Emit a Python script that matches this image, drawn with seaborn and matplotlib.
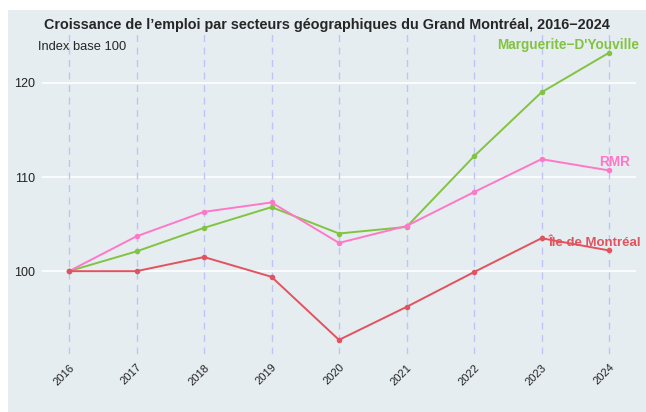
import numpy as np
import pandas as pd
import seaborn as sns
import matplotlib.pyplot as plt
from matplotlib.patches import Rectangle
from matplotlib.transforms import ScaledTranslation

# data (index base 100)
years = [2016, 2017, 2018, 2019, 2020, 2021, 2022, 2023, 2024]
marguerite = [100.0, 102.1, 104.6, 106.8, 104.0, 104.7, 112.2, 119.0, 123.2]
rmr = [100.0, 103.7, 106.3, 107.3, 103.0, 104.8, 108.4, 111.9, 110.7]
ile_mtl = [100.0, 100.0, 101.5, 99.4, 92.7, 96.2, 99.9, 103.5, 102.2]
series_names = ["Marguerite\u2212D'Youville", "RMR", "Île de Montréal"]
colors = ["#82C341", "#FF78C8", "#E2525F"]

df = pd.DataFrame({
    "year": years * 3,
    "value": marguerite + rmr + ile_mtl,
    "secteur": [series_names[0]] * 9 + [series_names[1]] * 9 + [series_names[2]] * 9,
})

bg = "#E6EDF0"
sns.set_style("white")
plt.rcParams['font.family'] = ['Liberation Sans', 'DejaVu Sans']

fig = plt.figure(figsize=(6.46, 4.12), dpi=100, facecolor="white")
fig.patches.append(Rectangle((8 / 646, 0), 1, 1 - 10 / 412, transform=fig.transFigure,
                             facecolor=bg, edgecolor="none", zorder=-10))
ax = fig.add_axes([42 / 646, 1 - 354 / 412, (636 - 42) / 646, (354 - 33) / 412])
ax.set_facecolor(bg)

for y in years:
    ax.axvline(y, color="#BFC3F6", lw=1, ls=(0, (5, 4)), zorder=1)
for t in [100, 110, 120]:
    ax.axhline(t, color="white", lw=1.2, zorder=0.5)

sns.lineplot(data=df, x="year", y="value", hue="secteur", palette=colors,
             hue_order=series_names, marker="o", markersize=4, markeredgewidth=0,
             linewidth=1.4, legend=False, ax=ax, zorder=3)

ax.set_xlim(2015.6, 2024.4)
ax.set_ylim(91.2, 125.3)
ax.set_xticks(years)
ax.set_xticklabels([str(y) for y in years], rotation=45, ha="right", va="top",
                   rotation_mode="anchor", fontsize=8, color="#222222")
off = ScaledTranslation(-7 / 72, 3 / 72, fig.dpi_scale_trans)
for lab in ax.get_xticklabels():
    lab.set_transform(lab.get_transform() + off)
ax.set_yticks([100, 110, 120])
ax.set_yticklabels(["100", "110", "120"], fontsize=9, color="#222222")
ax.tick_params(axis="x", length=0, pad=6)
ax.tick_params(axis="y", length=3, width=1.3, color="#222222", pad=2)
for s in ax.spines.values():
    s.set_visible(False)
ax.set_xlabel("")
ax.set_ylabel("")

# series labels
ax.text(2024.45, 124.0, series_names[0], color=colors[0], fontsize=9.8,
        fontweight="bold", ha="right", va="center", clip_on=False)
ax.text(2024.08, 111.6, series_names[1], color=colors[1], fontsize=9.8,
        fontweight="bold", ha="center", va="center", clip_on=False)
ax.text(2024.47, 103.0, series_names[2], color=colors[2], fontsize=9.5,
        fontweight="bold", ha="right", va="center", clip_on=False)

fig.text(327 / 646, 1 - 25 / 412,
         "Croissance de l\u2019emploi par secteurs géographiques du Grand Montréal, 2016\u22122024",
         ha="center", va="center", fontsize=10.4, fontweight="bold")
fig.text(38 / 646, 1 - 47 / 412, "Index base 100", ha="left", va="center", fontsize=9.3)

fig.savefig("out.png", dpi=100, facecolor="white")
